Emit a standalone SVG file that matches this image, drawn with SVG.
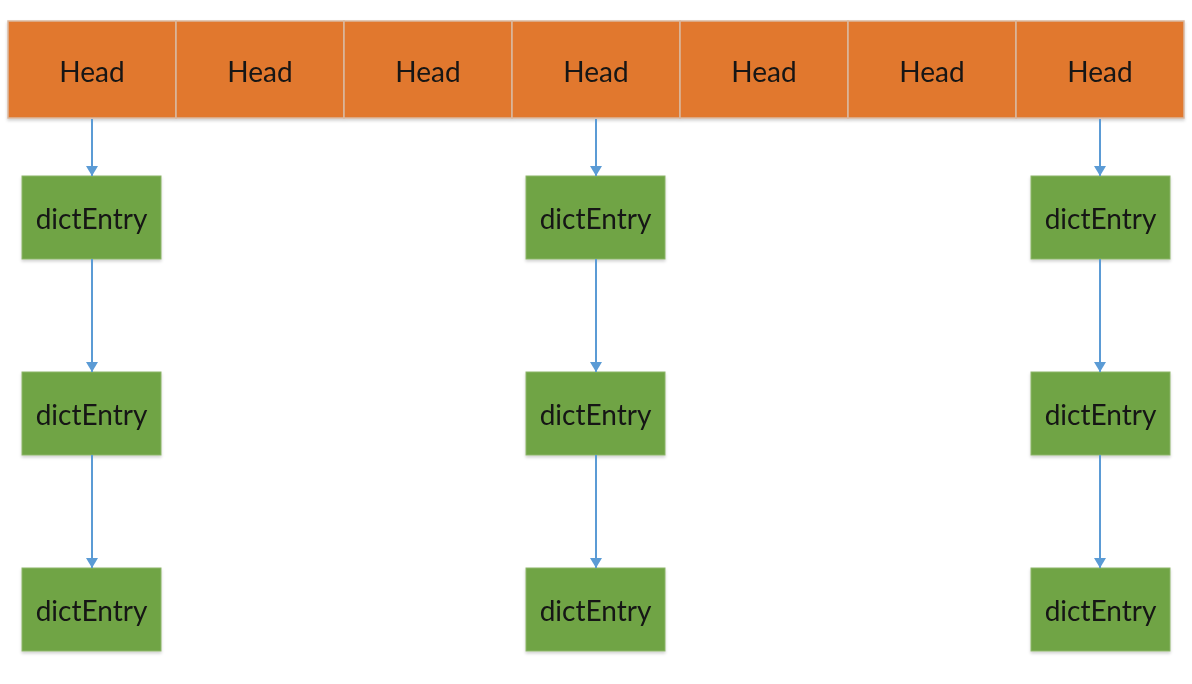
<svg xmlns="http://www.w3.org/2000/svg" width="1192" height="684" viewBox="0 0 1192 684">
  <style>
    .head { fill: #E1782D; stroke: #D9B8A0; stroke-width: 1.5; }
    .entry { fill: #6FA444; stroke: #8DB56A; stroke-width: 1; }
    .label { font-family: Lato, "Open Sans", sans-serif; font-size: 28px; fill: #151515; text-anchor: middle; dominant-baseline: central; }
    .link { stroke: #5B9BD5; stroke-width: 2; fill: none; marker-end: url(#arrow); }
  </style>
  <defs>
    <marker id="arrow" viewBox="0 0 10 12" refX="10" refY="6" markerUnits="userSpaceOnUse" markerWidth="10" markerHeight="12" orient="auto">
      <path d="M0,0 L10,6 L0,12 Z" fill="#5B9BD5"/>
    </marker>
    <filter id="shadow" x="-5%" y="-5%" width="110%" height="120%">
      <feDropShadow dx="0" dy="2" stdDeviation="1.5" flood-color="#000" flood-opacity="0.18"/>
    </filter>
  </defs>
  <rect width="1192" height="684" fill="#FFFFFF"/>

  <!-- hash table slots -->
  <g id="heads" filter="url(#shadow)">
    <g id="head-0"><rect class="head" x="8" y="21" width="168" height="97"/><text class="label" x="92" y="71">Head</text></g>
    <g id="head-1"><rect class="head" x="176" y="21" width="168" height="97"/><text class="label" x="260" y="71">Head</text></g>
    <g id="head-2"><rect class="head" x="344" y="21" width="168" height="97"/><text class="label" x="428" y="71">Head</text></g>
    <g id="head-3"><rect class="head" x="512" y="21" width="168" height="97"/><text class="label" x="596" y="71">Head</text></g>
    <g id="head-4"><rect class="head" x="680" y="21" width="168" height="97"/><text class="label" x="764" y="71">Head</text></g>
    <g id="head-5"><rect class="head" x="848" y="21" width="168" height="97"/><text class="label" x="932" y="71">Head</text></g>
    <g id="head-6"><rect class="head" x="1016" y="21" width="168" height="97"/><text class="label" x="1100" y="71">Head</text></g>
  </g>

  <!-- chained entries -->
  <g id="entries" filter="url(#shadow)">
    <g id="entry-0-0"><rect class="entry" x="22" y="176" width="139" height="83"/><text class="label" x="91.5" y="218">dictEntry</text></g>
    <g id="entry-0-1"><rect class="entry" x="22" y="372" width="139" height="83"/><text class="label" x="91.5" y="414">dictEntry</text></g>
    <g id="entry-0-2"><rect class="entry" x="22" y="568" width="139" height="83"/><text class="label" x="91.5" y="610">dictEntry</text></g>
    <g id="entry-3-0"><rect class="entry" x="526" y="176" width="139" height="83"/><text class="label" x="595.5" y="218">dictEntry</text></g>
    <g id="entry-3-1"><rect class="entry" x="526" y="372" width="139" height="83"/><text class="label" x="595.5" y="414">dictEntry</text></g>
    <g id="entry-3-2"><rect class="entry" x="526" y="568" width="139" height="83"/><text class="label" x="595.5" y="610">dictEntry</text></g>
    <g id="entry-6-0"><rect class="entry" x="1031" y="176" width="139" height="83"/><text class="label" x="1100.5" y="218">dictEntry</text></g>
    <g id="entry-6-1"><rect class="entry" x="1031" y="372" width="139" height="83"/><text class="label" x="1100.5" y="414">dictEntry</text></g>
    <g id="entry-6-2"><rect class="entry" x="1031" y="568" width="139" height="83"/><text class="label" x="1100.5" y="610">dictEntry</text></g>
  </g>

  <!-- next pointers -->
  <g id="connectors">
    <line class="link" x1="92" y1="119" x2="92" y2="176"/>
    <line class="link" x1="92" y1="259" x2="92" y2="372"/>
    <line class="link" x1="92" y1="455" x2="92" y2="568"/>
    <line class="link" x1="596" y1="119" x2="596" y2="176"/>
    <line class="link" x1="596" y1="259" x2="596" y2="372"/>
    <line class="link" x1="596" y1="455" x2="596" y2="568"/>
    <line class="link" x1="1100" y1="119" x2="1100" y2="176"/>
    <line class="link" x1="1100" y1="259" x2="1100" y2="372"/>
    <line class="link" x1="1100" y1="455" x2="1100" y2="568"/>
  </g>
</svg>
